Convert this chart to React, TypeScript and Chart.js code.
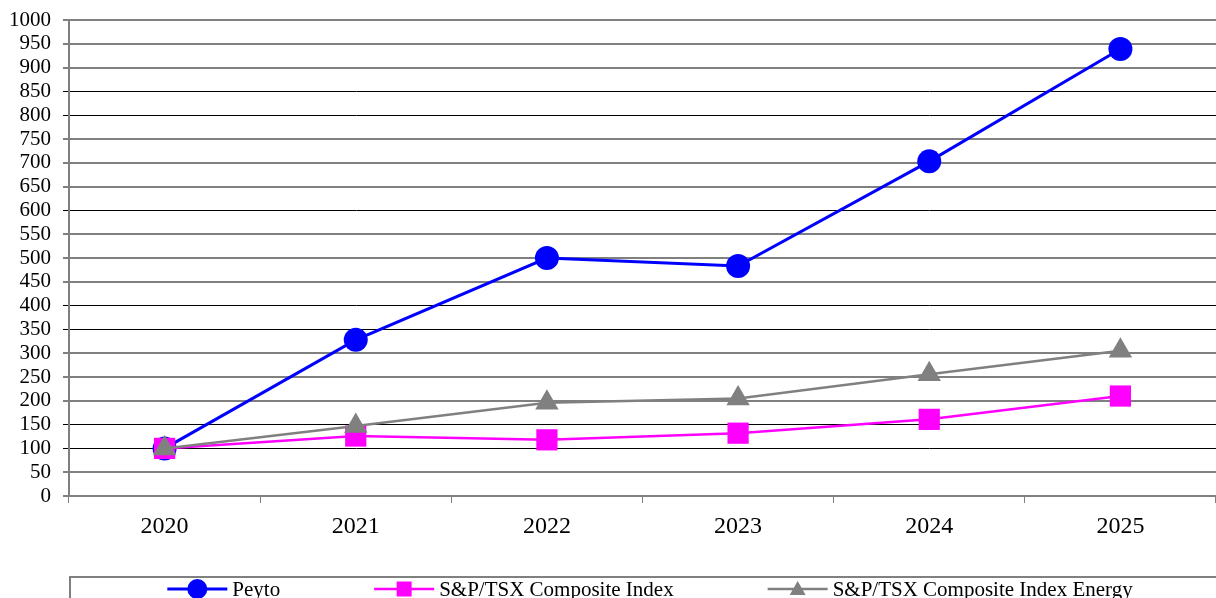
import React, { useEffect, useRef } from 'react';
import { Chart, registerables } from 'chart.js';

Chart.register(...registerables);

const years = ['2020', '2021', '2022', '2023', '2024', '2025'];
const peyto = [100, 328, 500, 483, 703, 939];
const composite = [100, 126, 118, 132, 161, 210];
const energy = [100, 147, 196, 205, 256, 305];
const seriesLabels = ['Peyto', 'S&P/TSX Composite Index', 'S&P/TSX Composite Index Energy'];
const seriesColors = ['#0000FF', '#FF00FF', '#808080'];
const yMin = 0;
const yMax = 1000;
const yStep = 50;
const darkGridValues = [850, 800, 600, 400, 350, 150, 100];

const FONT = '"Liberation Serif", "Times New Roman", serif';

function drawMarker(ctx: CanvasRenderingContext2D, style: string, x: number, y: number, color: string) {
  ctx.fillStyle = color;
  ctx.beginPath();
  if (style === 'circle') {
    ctx.arc(x, y, 10, 0, Math.PI * 2);
  } else if (style === 'rect') {
    ctx.rect(x - 7.5, y - 7.5, 15, 15);
  } else {
    ctx.moveTo(x, y - 8);
    ctx.lineTo(x + 8, y + 6);
    ctx.lineTo(x - 8, y + 6);
    ctx.closePath();
  }
  ctx.fill();
}

const boxLegend = {
  id: 'boxLegend',
  afterDraw(chart: any) {
    const ctx: CanvasRenderingContext2D = chart.ctx;
    const left = chart.chartArea.left;
    ctx.save();
    ctx.strokeStyle = '#808080';
    ctx.lineWidth = 2;
    ctx.strokeRect(left + 1, 577, chart.width - left + 20, 80);
    ctx.font = '21px ' + FONT;
    ctx.textBaseline = 'middle';
    ctx.textAlign = 'left';
    const y = 589;
    const lineLen = 60;
    const textGap = 5;
    const itemGap = 94;
    const ds = chart.data.datasets;
    const widths = ds.map((d: any) => lineLen + textGap + ctx.measureText(d.label).width);
    const total = widths.reduce((a: number, b: number) => a + b, 0) + itemGap * (ds.length - 1);
    let x = 650 - total / 2;
    ds.forEach((d: any, i: number) => {
      ctx.strokeStyle = d.borderColor;
      ctx.lineWidth = d.borderWidth;
      ctx.beginPath();
      ctx.moveTo(x, y);
      ctx.lineTo(x + lineLen, y);
      ctx.stroke();
      drawMarker(ctx, d.pointStyle, x + lineLen / 2, y, d.borderColor);
      ctx.fillStyle = '#000';
      ctx.fillText(d.label, x + lineLen + textGap, y + 1);
      x += widths[i] + itemGap;
    });
    ctx.restore();
  },
};

export default function App() {
  const canvasRef = useRef<HTMLCanvasElement | null>(null);

  useEffect(() => {
    document.body.style.margin = '0';
    const canvas = canvasRef.current;
    if (!canvas) return;
    const chart = new Chart(canvas, {
      type: 'line',
      data: {
        labels: years,
        datasets: [
          {
            label: seriesLabels[0],
            data: peyto,
            borderColor: seriesColors[0],
            backgroundColor: seriesColors[0],
            borderWidth: 3,
            pointStyle: 'circle',
            pointRadius: 12,
            pointHoverRadius: 12,
            pointBorderWidth: 0,
            order: 2,
          },
          {
            label: seriesLabels[1],
            data: composite,
            borderColor: seriesColors[1],
            backgroundColor: seriesColors[1],
            borderWidth: 2.5,
            pointStyle: 'rect',
            pointRadius: 15,
            pointHoverRadius: 15,
            pointBorderWidth: 0,
            order: 1,
          },
          {
            label: seriesLabels[2],
            data: energy,
            borderColor: seriesColors[2],
            backgroundColor: seriesColors[2],
            borderWidth: 2.5,
            pointStyle: 'triangle',
            pointRadius: 13.5,
            pointHoverRadius: 13.5,
            pointBorderWidth: 0,
            order: 0,
          },
        ],
      },
      options: {
        responsive: false,
        animation: false,
        events: [],
        layout: { autoPadding: false, padding: { top: 20, right: 0, left: 0, bottom: 0 } },
        plugins: {
          legend: { display: false },
          tooltip: { enabled: false },
          title: { display: false },
        },
        scales: {
          x: {
            offset: true,
            grid: {
              offset: true,
              drawOnChartArea: false,
              drawTicks: true,
              tickLength: 7,
              color: '#808080',
              lineWidth: 1,
            },
            border: { display: true, color: '#808080', width: 2 },
            ticks: {
              color: '#000',
              font: { family: FONT, size: 24 },
              padding: 9,
              maxRotation: 0,
              autoSkip: false,
            },
            afterFit: (scale: any) => {
              scale.height = 102;
              scale.paddingLeft = 0;
              scale.paddingRight = 0;
            },
          },
          y: {
            min: yMin,
            max: yMax,
            grid: {
              drawTicks: true,
              tickLength: 6,
              color: (c: any) => (darkGridValues.includes(c.tick?.value) ? '#000' : '#808080'),
              lineWidth: (c: any) => (darkGridValues.includes(c.tick?.value) ? 1 : 2),
            },
            border: { display: true, color: '#808080', width: 2 },
            ticks: {
              stepSize: yStep,
              autoSkip: false,
              color: '#000',
              font: { family: FONT, size: 21 },
              padding: 12,
              callback: (v: any) => String(v),
            },
            afterFit: (scale: any) => {
              scale.width = 69;
              scale.paddingTop = 0;
              scale.paddingBottom = 0;
            },
          },
        },
      },
      plugins: [boxLegend],
    });
    return () => chart.destroy();
  }, []);

  return (
    <div style={{ position: 'fixed', left: 0, top: 0, width: 1216, height: 598, overflow: 'hidden', background: '#fff' }}>
      <canvas ref={canvasRef} width={1216} height={598} style={{ display: 'block' }} />
    </div>
  );
}
